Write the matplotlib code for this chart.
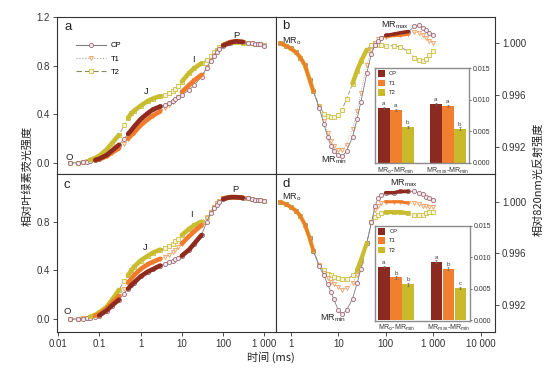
import numpy as np
import matplotlib
matplotlib.use('Agg')
import matplotlib.pyplot as plt
from matplotlib.lines import Line2D
from matplotlib.patches import Rectangle
from matplotlib.ticker import FixedLocator, FixedFormatter, NullLocator, FormatStrFormatter

plt.rcParams['font.family'] = ['Liberation Sans', 'Noto Sans CJK SC']
plt.rcParams['mathtext.fontset'] = 'custom'
plt.rcParams['mathtext.rm'] = 'Liberation Sans'
plt.rcParams['mathtext.it'] = 'Liberation Sans:italic'
plt.rcParams['axes.unicode_minus'] = False

# ---------------- data ----------------
series = ['CP', 'T1', 'T2']

# chlorophyll fluorescence (OJIP), time in ms
t_fl = np.array([0.02, 0.03, 0.04, 0.05, 0.06, 0.08, 0.1, 0.15, 0.2, 0.3, 0.4, 0.5, 0.6, 0.7,
                 1, 1.5, 2, 3, 4, 5, 6, 7, 8, 10, 15, 20, 30, 40, 50, 60, 70, 80,
                 100, 150, 200, 300, 400, 500, 600, 700, 800, 1000])
a_cp = np.array([0, 0.002, 0.005, 0.01, 0.015, 0.025, 0.035, 0.065, 0.1, 0.15, 0.2, 0.24, 0.27, 0.3,
                 0.36, 0.41, 0.44, 0.465, 0.48, 0.495, 0.51, 0.525, 0.54, 0.56, 0.6, 0.64, 0.71, 0.78,
                 0.84, 0.88, 0.91, 0.935, 0.965, 0.99, 1.0, 0.995, 0.99, 0.985, 0.98, 0.975, 0.975, 0.965])
a_t1 = np.array([0, 0.002, 0.005, 0.01, 0.015, 0.022, 0.03, 0.055, 0.085, 0.12, 0.16, 0.2, 0.23, 0.25,
                 0.31, 0.36, 0.39, 0.425, 0.45, 0.48, 0.5, 0.52, 0.54, 0.585, 0.64, 0.68, 0.725, 0.79,
                 0.85, 0.89, 0.92, 0.94, 0.97, 0.995, 1.0, 0.995, 0.99, 0.985, 0.98, 0.975, 0.975, 0.97])
a_t2 = np.array([0, 0.003, 0.008, 0.015, 0.025, 0.04, 0.06, 0.11, 0.16, 0.23, 0.31, 0.37, 0.41, 0.43,
                 0.47, 0.51, 0.53, 0.55, 0.56, 0.575, 0.59, 0.61, 0.63, 0.67, 0.74, 0.78, 0.82, 0.85,
                 0.88, 0.91, 0.93, 0.95, 0.97, 0.99, 0.995, 0.99, 0.985, 0.985, 0.98, 0.98, 0.975, 0.97])
c_cp = np.array([0, 0.002, 0.005, 0.008, 0.012, 0.02, 0.03, 0.07, 0.11, 0.16, 0.21, 0.25, 0.28, 0.3,
                 0.35, 0.39, 0.41, 0.44, 0.455, 0.47, 0.48, 0.49, 0.5, 0.52, 0.57, 0.62, 0.69, 0.8,
                 0.87, 0.91, 0.94, 0.96, 0.985, 1.0, 1.0, 0.995, 0.99, 0.985, 0.98, 0.975, 0.975, 0.965])
c_t1 = np.array([0, 0.002, 0.006, 0.01, 0.015, 0.028, 0.04, 0.085, 0.13, 0.19, 0.25, 0.3, 0.33, 0.36,
                 0.41, 0.45, 0.47, 0.495, 0.51, 0.53, 0.55, 0.57, 0.59, 0.62, 0.68, 0.72, 0.77, 0.83,
                 0.88, 0.92, 0.95, 0.965, 0.99, 1.0, 1.0, 0.995, 0.99, 0.985, 0.98, 0.975, 0.975, 0.965])
c_t2 = np.array([0, 0.003, 0.008, 0.013, 0.02, 0.035, 0.055, 0.1, 0.155, 0.24, 0.31, 0.36, 0.4, 0.43,
                 0.48, 0.52, 0.545, 0.57, 0.58, 0.6, 0.62, 0.64, 0.66, 0.69, 0.74, 0.77, 0.8, 0.84,
                 0.88, 0.92, 0.95, 0.965, 0.99, 1.0, 1.0, 0.995, 0.99, 0.985, 0.98, 0.975, 0.975, 0.965])

# 820 nm reflection, time in ms
t_mr = np.array([0.6, 0.8, 1, 1.3, 1.6, 2, 2.5, 3, 4, 5, 6, 7, 8, 10, 12, 15, 20, 25, 30, 40, 50,
                 60, 70, 80, 100, 150, 200, 300, 400, 500, 600, 700, 800, 1000])
b_cp = np.array([1.0000, 0.9998, 0.9996, 0.9993, 0.9989, 0.9983, 0.9972, 0.9963, 0.9950, 0.9938,
                 0.9928, 0.9921, 0.9917, 0.9914, 0.9913, 0.9917, 0.9928, 0.9942, 0.9955, 0.9977,
                 0.9992, 0.9999, 1.0002, 1.0004, 1.0006, 1.0007, 1.0008, 1.0009, 1.0013, 1.0014,
                 1.0012, 1.0010, 1.0008, 1.0006])
b_t1 = np.array([1.0000, 0.9998, 0.9996, 0.9993, 0.9989, 0.9983, 0.9972, 0.9963, 0.9951, 0.9940,
                 0.9931, 0.9925, 0.9921, 0.9918, 0.9918, 0.9922, 0.9934, 0.9948, 0.9962, 0.9983,
                 0.9995, 1.0000, 1.0003, 1.0004, 1.0005, 1.0006, 1.0006, 1.0007, 1.0009, 1.0008,
                 1.0006, 1.0004, 1.0002, 1.0000])
b_t2 = np.array([1.0000, 0.9998, 0.9996, 0.9993, 0.9989, 0.9983, 0.9972, 0.9963, 0.9952, 0.9946,
                 0.9944, 0.9943, 0.9943, 0.9945, 0.9949, 0.9957, 0.9969, 0.9979, 0.9986, 0.9995,
                 0.9999, 1.0000, 0.9999, 0.9999, 0.9998, 0.9998, 0.9997, 0.9994, 0.9989, 0.9987,
                 0.9986, 0.9988, 0.9991, 0.9994])
d_cp = np.array([1.0000, 0.9998, 0.9996, 0.9993, 0.9989, 0.9982, 0.9972, 0.9962, 0.9950, 0.9943,
                 0.9936, 0.9930, 0.9925, 0.9916, 0.9913, 0.9916, 0.9925, 0.9937, 0.9948, 0.9968,
                 0.9984, 0.9997, 1.0003, 1.0005, 1.0007, 1.0007, 1.0008, 1.0008, 1.0008, 1.0007,
                 1.0006, 1.0004, 1.0003, 1.0001])
d_t1 = np.array([1.0000, 0.9998, 0.9996, 0.9993, 0.9989, 0.9982, 0.9972, 0.9962, 0.9951, 0.9945,
                 0.9941, 0.9938, 0.9936, 0.9934, 0.9932, 0.9933, 0.9937, 0.9943, 0.9952, 0.9968,
                 0.9984, 0.9994, 0.9997, 0.9999, 1.0000, 1.0000, 1.0000, 0.9999, 0.9999, 0.9998,
                 0.9997, 0.9997, 0.9996, 0.9996])
d_t2 = np.array([1.0000, 0.9998, 0.9996, 0.9993, 0.9989, 0.9982, 0.9972, 0.9962, 0.9951, 0.9947,
                 0.9944, 0.9943, 0.9942, 0.9941, 0.9940, 0.9940, 0.9943, 0.9947, 0.9955, 0.9968,
                 0.9984, 0.9988, 0.9990, 0.9991, 0.9992, 0.9992, 0.9992, 0.9991, 0.9990, 0.9990,
                 0.9990, 0.9991, 0.9992, 0.9992])

# inset bar charts
bar_cats = ['MR$_\\mathrm{o}$-MR$_\\mathrm{min}$', 'MR$_\\mathrm{max}$-MR$_\\mathrm{min}$']
ib_vals = {'CP': [0.0087, 0.0093], 'T1': [0.0084, 0.0090], 'T2': [0.0057, 0.0054]}
ib_err = {'CP': [0.0002, 0.0002], 'T1': [0.0002, 0.0002], 'T2': [0.0002, 0.0002]}
ib_sig = {'CP': ['a', 'a'], 'T1': ['a', 'a'], 'T2': ['b', 'b']}
id_vals = {'CP': [0.0085, 0.0093], 'T1': [0.0068, 0.0082], 'T2': [0.0057, 0.0051]}
id_err = {'CP': [0.0002, 0.0002], 'T1': [0.0002, 0.0002], 'T2': [0.0002, 0.0002]}
id_sig = {'CP': ['a', 'a'], 'T1': ['b', 'b'], 'T2': ['b', 'c']}

fl_xticks = [0.01, 0.1, 1, 10, 100, 1000]
fl_xlabels = ['0.01', '0.1', '1', '10', '100', '1 000']
mr_xticks = [1, 10, 100, 1000, 10000]
mr_xlabels = ['1', '10', '100', '1 000', '10 000']
fl_yticks = [0.0, 0.4, 0.8, 1.2]
mr_yticks = [0.992, 0.996, 1.000]
bar_yticks = [0.0, 0.005, 0.010, 0.015]

# ---------------- styles ----------------
STY = {
    'CP': dict(ls='-', lc='#7d7d7d', marker='o', mec='#9b6b79', mfc='#f7e8ec', band='#8f2a1e'),
    'T1': dict(ls=':', lc='#b09a90', marker='v', mec='#f0a263', mfc='#fdefe2', band='#ef7b2b'),
    'T2': dict(ls=(0, (5, 2.5)), lc='#8a8a6a', marker='s', mec='#c9c04a', mfc='#f6f4d4', band='#c9bd2f'),
}
BAR_C = {'CP': '#8b2a20', 'T1': '#f07f30', 'T2': '#c9b92b'}

W, H = 554, 372
def rect(x0, y0, x1, y1):
    return [x0 / W, 1 - y1 / H, (x1 - x0) / W, (y1 - y0) / H]

fig = plt.figure(figsize=(W / 100, H / 100), dpi=100)
axa = fig.add_axes(rect(57, 17, 276, 174))
axb = fig.add_axes(rect(276, 17, 495, 174))
axc = fig.add_axes(rect(57, 174, 276, 332))
axd = fig.add_axes(rect(276, 174, 495, 332))

def draw(ax, t, ys, bands, order=('T2', 'T1', 'CP'), band_lw=None):
    for s in order:
        st = STY[s]
        ax.plot(t, ys[s], linestyle=st['ls'], color=st['lc'], lw=0.6, marker=st['marker'],
                ms=3.0, mfc=st['mfc'], mec=st['mec'], mew=0.6, zorder=2)
    for s in order:
        for (lo, hi) in bands.get(s, []):
            m = (t >= lo) & (t <= hi)
            lw = (band_lw or {}).get(s, 3.3)
            ax.plot(t[m], ys[s][m], color=STY[s]['band'], lw=lw, solid_capstyle='round', zorder=3)

draw(axa, t_fl, {'CP': a_cp, 'T1': a_t1, 'T2': a_t2},
     {'CP': [(0.08, 0.3), (0.5, 3), (100, 300)],
      'T1': [(0.08, 0.3), (0.5, 3), (10, 30), (100, 300)],
      'T2': [(0.06, 0.3), (0.5, 3), (10, 30), (100, 300)]})
draw(axc, t_fl, {'CP': c_cp, 'T1': c_t1, 'T2': c_t2},
     {'CP': [(0.1, 0.3), (0.5, 3), (10, 30), (100, 300)],
      'T1': [(0.08, 0.3), (0.5, 3), (10, 30), (100, 300)],
      'T2': [(0.06, 0.3), (0.5, 3), (10, 30), (100, 300)]})
draw(axb, t_mr, {'CP': b_cp, 'T1': b_t1, 'T2': b_t2},
     {'T2': [(0.6, 3), (18, 40)], 'T1': [(0.6, 3), (100, 300)], 'CP': [(100, 300)]},
     order=('T2', 'T1', 'CP'), band_lw={'T2': 3.2, 'T1': 2.2, 'CP': 2.6})
draw(axd, t_mr, {'CP': d_cp, 'T1': d_t1, 'T2': d_t2},
     {'T2': [(0.6, 3), (25, 40), (100, 300)], 'T1': [(0.6, 3), (100, 300)], 'CP': [(100, 300)]},
     order=('T2', 'T1', 'CP'), band_lw={'T2': 3.0, 'T1': 2.2, 'CP': 2.6})

for ax in (axa, axb, axc, axd):
    ax.set_xscale('log')
    for sp in ax.spines.values():
        sp.set_color('#333333')
        sp.set_linewidth(0.8)
    ax.xaxis.set_minor_locator(NullLocator())
    ax.yaxis.set_minor_locator(NullLocator())
    ax.tick_params(direction='out', length=3, width=0.6, labelsize=7, pad=2, colors='#333333')

for ax in (axa, axc):
    ax.set_xlim(0.0095, 1900)
    ax.xaxis.set_major_locator(FixedLocator(fl_xticks))
    ax.xaxis.set_major_formatter(FixedFormatter(fl_xlabels))
    ax.yaxis.set_major_locator(FixedLocator(fl_yticks))
    ax.yaxis.set_major_formatter(FormatStrFormatter('%.1f'))
axa.set_ylim(-0.09, 1.2)
axc.set_ylim(-0.105, 1.19)
axa.tick_params(axis='x', labelbottom=False)

for ax in (axb, axd):
    ax.set_xlim(0.49, 20000)
    ax.xaxis.set_major_locator(FixedLocator(mr_xticks))
    ax.xaxis.set_major_formatter(FixedFormatter(mr_xlabels))
    ax.yaxis.set_major_locator(FixedLocator(mr_yticks))
    ax.yaxis.set_major_formatter(FormatStrFormatter('%.3f'))
    ax.yaxis.tick_right()
    ax.tick_params(axis='y', left=False, right=True)
axb.set_ylim(0.98995, 1.00202)
axd.set_ylim(0.98992, 1.00215)
axb.tick_params(axis='x', labelbottom=False)

# legend in panel a
handles = [Line2D([], [], linestyle=STY[s]['ls'], color=STY[s]['lc'], lw=0.8, marker=STY[s]['marker'],
                  ms=3.0, mfc=STY[s]['mfc'], mec=STY[s]['mec'], mew=0.6) for s in series]
axa.legend(handles, series, loc='upper left', bbox_to_anchor=(0.085, 0.84), frameon=False,
           fontsize=5.5, handlelength=4.0, handletextpad=0.6, labelspacing=0.75,
           borderpad=0, borderaxespad=0, numpoints=1)

# insets
def inset(r, vals, errs, sigs):
    ax = fig.add_axes(rect(*r))
    ax.set_facecolor('white')
    offs = [0, 4.33]
    for i, s in enumerate(series):
        xs = [o + i for o in offs]
        ax.bar(xs, vals[s], width=0.95, color=BAR_C[s], zorder=2)
        ax.errorbar(xs, vals[s], yerr=errs[s], fmt='none', ecolor='#666666', elinewidth=0.5,
                    capsize=0.8, capthick=0.5, zorder=3)
        for x, v, e, g in zip(xs, vals[s], errs[s], sigs[s]):
            ax.text(x, v + e + 0.0001, g, ha='center', va='bottom', fontsize=4.5, color='#444444')
    ax.set_xlim(-0.74, 7.12)
    ax.set_ylim(-0.0001, 0.015)
    ax.yaxis.tick_right()
    ax.yaxis.set_major_locator(FixedLocator(bar_yticks))
    ax.yaxis.set_major_formatter(FormatStrFormatter('%.3f'))
    ax.xaxis.set_major_locator(FixedLocator([1, 5.33]))
    ax.xaxis.set_major_formatter(FixedFormatter(bar_cats))
    ax.tick_params(axis='y', length=1.5, width=0.5, labelsize=5, pad=1, colors='#333333')
    ax.tick_params(axis='x', length=0, labelsize=5, pad=1.5, colors='#333333')
    for sp in ax.spines.values():
        sp.set_color('#8c8c8c')
        sp.set_linewidth(1.0)
    for i, s in enumerate(series):
        yc = [0.945, 0.845, 0.745][i]
        ax.add_patch(Rectangle((0.035, yc - 0.035), 0.075, 0.07, transform=ax.transAxes,
                               facecolor=BAR_C[s], edgecolor='none', zorder=4))
        ax.text(0.15, yc, s, transform=ax.transAxes, fontsize=4.2, va='center', ha='left',
                color='#222222', zorder=4)
    return ax

inset((375, 68.3, 469.3, 163.3), ib_vals, ib_err, ib_sig)
inset((375, 226, 470, 320.7), id_vals, id_err, id_sig)

def ft(x, y, s, **kw):
    kw.setdefault('ha', 'center')
    kw.setdefault('va', 'center')
    kw.setdefault('color', '#222222')
    fig.text(x / W, 1 - y / H, s, **kw)

# panel letters
ft(68, 27, 'a', fontsize=9.5)
ft(286, 26, 'b', fontsize=9.5)
ft(67, 185, 'c', fontsize=9.5)
ft(286, 184, 'd', fontsize=9.5)
# OJIP points
for (x, y, s) in [(69.5, 157, 'O'), (146.7, 91.7, 'J'), (193.3, 59.3, 'I'), (236, 35, 'P'),
                  (67, 311.7, 'O'), (145.7, 247.3, 'J'), (191.7, 214, 'I'), (235, 189.3, 'P')]:
    ft(x, y, s, fontsize=6.8)
# MR labels
mr0 = 'MR$_\\mathrm{o}$'
mrmin = 'MR$_\\mathrm{min}$'
mrmax = 'MR$_\\mathrm{max}$'
ft(282, 41, mr0, fontsize=6.5, ha='left')
ft(321, 160, mrmin, fontsize=6.5, ha='left')
ft(381, 25, mrmax, fontsize=6.5, ha='left')
ft(282, 197, mr0, fontsize=6.5, ha='left')
ft(320, 318, mrmin, fontsize=6.5, ha='left')
ft(390, 183, mrmax, fontsize=6.5, ha='left')

# axis titles
cjk = ['Noto Sans CJK SC', 'Liberation Sans']
ft(27, 176, '相对叶绿素荧光强度', rotation=90, fontsize=8, family=cjk)
ft(538, 179, '相对820nm光反射强度', rotation=90, fontsize=8, family=cjk)
ft(271, 357, '时间 (ms)', fontsize=8, family=cjk)

fig.savefig('out.png', dpi=100)
